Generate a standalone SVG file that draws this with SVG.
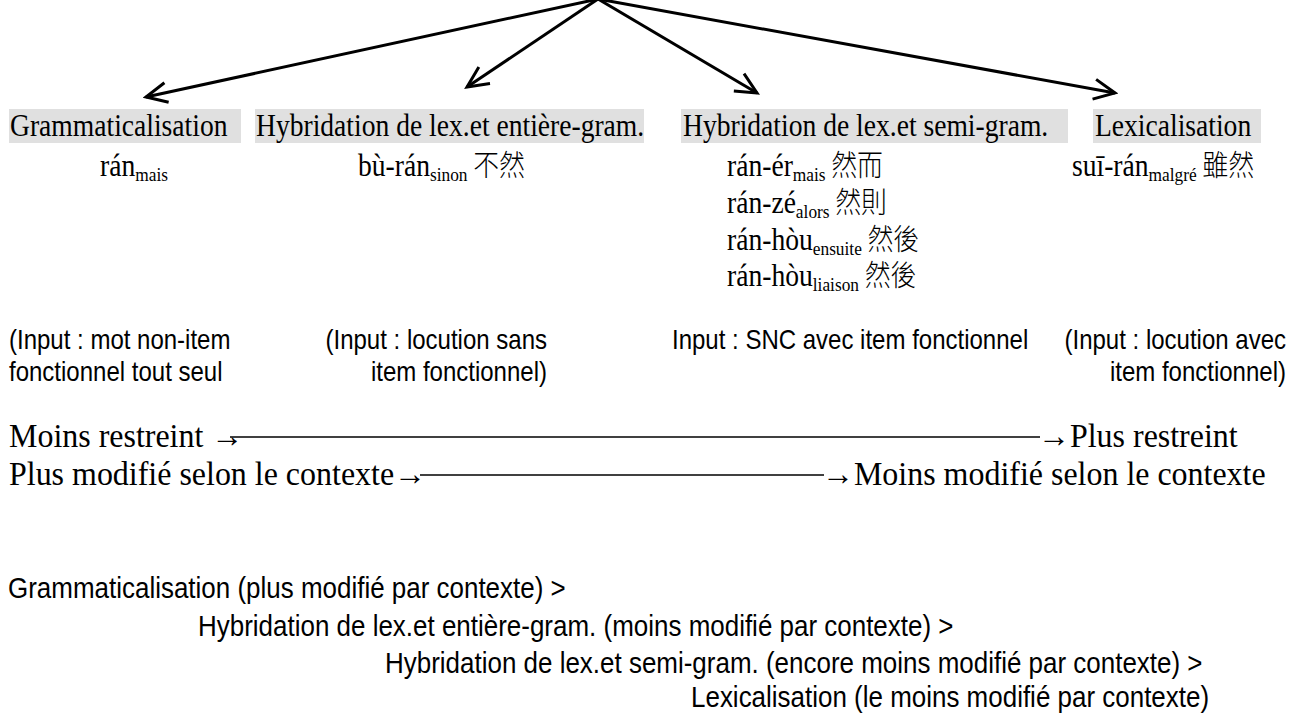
<svg xmlns="http://www.w3.org/2000/svg" width="1296" height="713" viewBox="0 0 1296 713">
<style>
.ser{font-family:"Liberation Serif","Times New Roman",serif;font-size:31px;fill:#000}
.big{font-family:"Liberation Serif","Times New Roman",serif;font-size:34px;fill:#000}
.sub{font-size:19.5px}
.cjk{font-family:"Noto Sans CJK TC","Noto Sans CJK SC",sans-serif;font-size:29px;font-weight:300}
.sans{font-family:"Liberation Sans",Arial,sans-serif;font-size:27.6px;fill:#000}
.rank{font-family:"Liberation Sans",Arial,sans-serif;font-size:30.2px;fill:#000}
.hl{fill:#e0e0e0}
.conn{stroke:#000;stroke-width:3;fill:none;marker-end:url(#open)}
.rule{stroke:#000;stroke-width:1.3}
</style>
<defs>
<marker id="open" viewBox="-24 -12 27 24" refX="0" refY="0" markerWidth="27" markerHeight="24" markerUnits="userSpaceOnUse" orient="auto">
<path d="M-21,-10 L0,0 L-21,10" fill="none" stroke="#000" stroke-width="3"/>
</marker>
</defs>
<rect width="1296" height="713" fill="#fff"/>
<g id="connectors">
<line class="conn" x1="598" y1="-1" x2="146" y2="97"/>
<line class="conn" x1="598" y1="-1" x2="467" y2="87"/>
<line class="conn" x1="598" y1="-1" x2="757" y2="93"/>
<line class="conn" x1="598" y1="-1" x2="1115" y2="93"/>
</g>
<g id="n-grammaticalisation">
<rect class="hl" x="9" y="109" width="232" height="34"/>
<text class="ser" transform="translate(10 136) scale(0.89 1)">Grammaticalisation</text>
<text class="ser" transform="translate(100 176) scale(0.89 1)">rán<tspan class="sub" dy="5">mais</tspan></text>
<text class="sans" transform="translate(9 349) scale(0.87 1)">(Input : mot non-item</text>
<text class="sans" transform="translate(9 381) scale(0.87 1)">fonctionnel tout seul</text>
</g>
<g id="n-hybridation-entiere">
<rect class="hl" x="255" y="109" width="389" height="34"/>
<text class="ser" transform="translate(256 136) scale(0.89 1)">Hybridation de lex.et entière-gram.</text>
<text class="ser" transform="translate(358 176) scale(0.89 1)">bù-rán<tspan class="sub" dy="5">sinon</tspan><tspan class="cjk" dy="-5"> 不然</tspan></text>
<text class="sans" text-anchor="end" transform="translate(547 349) scale(0.87 1)">(Input : locution sans</text>
<text class="sans" text-anchor="end" transform="translate(547 381) scale(0.87 1)">item fonctionnel)</text>
</g>
<g id="n-hybridation-semi">
<rect class="hl" x="681" y="109" width="387" height="34"/>
<text class="ser" transform="translate(683 136) scale(0.89 1)">Hybridation de lex.et semi-gram.</text>
<text class="ser" transform="translate(727 176) scale(0.89 1)">rán-ér<tspan class="sub" dy="5">mais</tspan><tspan class="cjk" dy="-5"> 然而</tspan></text>
<text class="ser" transform="translate(727 213) scale(0.89 1)">rán-zé<tspan class="sub" dy="5">alors</tspan><tspan class="cjk" dy="-5"> 然則</tspan></text>
<text class="ser" transform="translate(727 250) scale(0.89 1)">rán-hòu<tspan class="sub" dy="5">ensuite</tspan><tspan class="cjk" dy="-5"> 然後</tspan></text>
<text class="ser" transform="translate(727 286) scale(0.89 1)">rán-hòu<tspan class="sub" dy="5">liaison</tspan><tspan class="cjk" dy="-5"> 然後</tspan></text>
<text class="sans" transform="translate(672 349) scale(0.87 1)">Input : SNC avec item fonctionnel</text>
</g>
<g id="n-lexicalisation">
<rect class="hl" x="1093" y="109" width="168" height="34"/>
<text class="ser" transform="translate(1095 136) scale(0.89 1)">Lexicalisation</text>
<text class="ser" transform="translate(1072 176) scale(0.89 1)">suī-rán<tspan class="sub" dy="5">malgré</tspan><tspan class="cjk" dy="-5"> 雖然</tspan></text>
<text class="sans" text-anchor="end" transform="translate(1286 349) scale(0.87 1)">(Input : locution avec</text>
<text class="sans" text-anchor="end" transform="translate(1286 381) scale(0.87 1)">item fonctionnel)</text>
</g>
<g id="scales">
<text class="big" transform="translate(9 447) scale(0.94 1)">Moins restreint →</text>
<line class="rule" x1="230" y1="437" x2="1040" y2="437"/>
<text class="big" transform="translate(1038 447) scale(0.94 1)">→Plus restreint</text>
<text class="big" transform="translate(9 485) scale(0.94 1)">Plus modifié selon le contexte→</text>
<line class="rule" x1="420" y1="475" x2="824" y2="475"/>
<text class="big" transform="translate(822 485) scale(0.94 1)">→Moins modifié selon le contexte</text>
</g>
<g id="ranking">
<text class="rank" transform="translate(8 598) scale(0.86 1)">Grammaticalisation (plus modifié par contexte) &gt;</text>
<text class="rank" transform="translate(198 636) scale(0.86 1)">Hybridation de lex.et entière-gram. (moins modifié par contexte) &gt;</text>
<text class="rank" transform="translate(385 673) scale(0.86 1)">Hybridation de lex.et semi-gram. (encore moins modifié par contexte) &gt;</text>
<text class="rank" transform="translate(691 707) scale(0.86 1)">Lexicalisation (le moins modifié par contexte)</text>
</g>
</svg>
